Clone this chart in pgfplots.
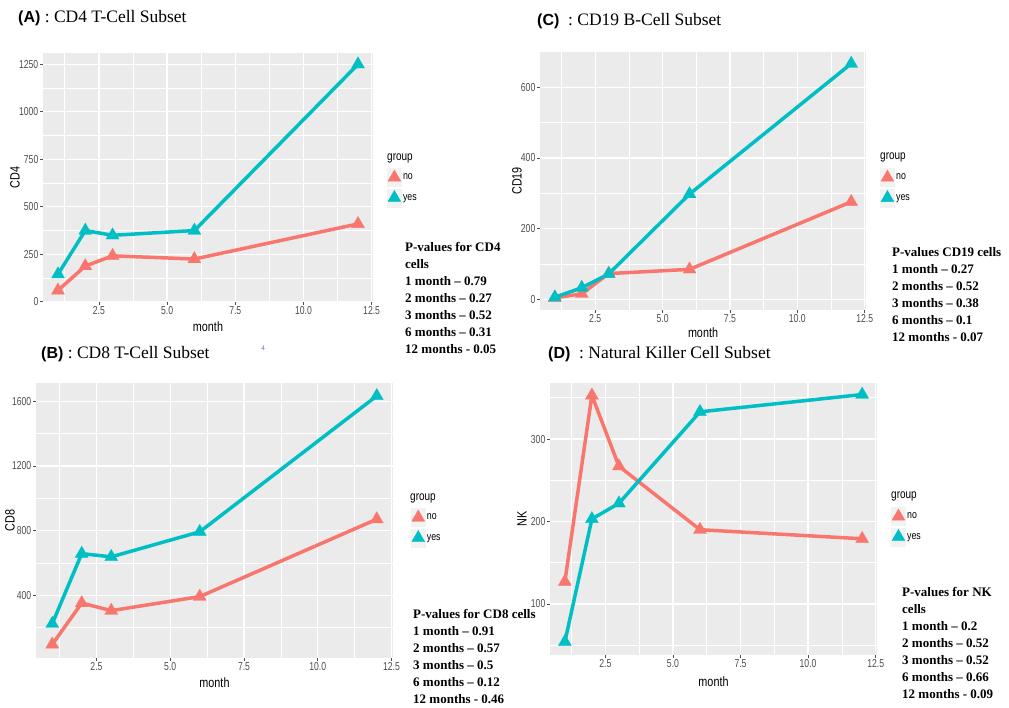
\documentclass[border=0pt]{standalone}
\usepackage{fontspec}
\setmainfont{Liberation Serif}
\setsansfont{Liberation Sans}
\newfontfamily\ggfont[FakeStretch=0.8]{Liberation Sans}
\newfontfamily\ggtickfont[FakeStretch=0.75]{Liberation Sans}
\usepackage{pgfplots}
\usepackage{pgfplotstable}
\pgfplotsset{compat=1.18}

\definecolor{ggred}{HTML}{F8766D}
\definecolor{ggteal}{HTML}{00BFC4}
\definecolor{ggbg}{HTML}{EBEBEB}
\definecolor{ggtick}{HTML}{4D4D4D}
\definecolor{ggkey}{HTML}{F2F2F2}
\definecolor{strayblue}{HTML}{4A78B8}

\pgfplotstableread{
month no yes
1 60 145
2 188 375
3 242 350
6 225 375
12 410 1250
}\tabA
\pgfplotstableread{
month no yes
1 96 224
2 352 658
3 305 638
6 392 793
12 871 1634
}\tabB
\pgfplotstableread{
month no yes
1 4 6
2 16 33
3 73 72
6 85 298
12 276 667
}\tabC
\pgfplotstableread{
month no yes
1 127 54
2 353 203
3 267 222
6 190 333
12 179 354
}\tabD

\pgfplotsset{
 gg/.style={
  scale only axis,
  axis background/.style={fill=ggbg},
  axis line style={draw=none},
  tick pos=left,
  xmin=0.45, xmax=12.55,
  xtick={2.5,5,7.5,10,12.5},
  xticklabels={2.5,5.0,7.5,10.0,12.5},
  minor xtick={1.25,3.75,6.25,8.75,11.25},
  grid=both,
  major grid style={white, line width=1.4pt},
  minor grid style={white, line width=0.7pt},
  tick align=outside,
  major tick length=3pt,
  minor tick length=0pt,
  every tick/.style={ggtick, line width=0.7pt},
  ticklabel style={font=\ggtickfont\fontsize{11.5}{12}\selectfont, text=ggtick},
  xticklabel style={inner sep=1pt},
  yticklabel style={/pgf/number format/set thousands separator={}, inner sep=1.5pt},
  /pgf/number format/assume math mode=true,
  xlabel={month},
  legend style={draw=none, fill=none, inner sep=0pt, anchor=north west,
    font=\ggfont\fontsize{11}{12}\selectfont, row sep=2pt,
    cells={anchor=west}, nodes={inner xsep=1.5pt, inner ysep=0pt}},
  legend image code/.code={
    \fill[ggkey] (0pt,-9pt) rectangle (14pt,9pt);
    \draw[##1] plot coordinates {(7pt,0pt)};
  },
 },
 labpos/.style 2 args={
  every axis y label/.style={at={(axis description cs:#1,0.5)}, rotate=90, anchor=center,
     font=\ggfont\fontsize{13.5}{14}\selectfont, text=black},
  every axis x label/.style={at={(axis description cs:0.5,#2)}, anchor=center,
     font=\ggfont\fontsize{13.5}{14}\selectfont, text=black},
 },
}

\newcommand\panelplots[1]{%
 \addplot[ggred, line width=3.5pt, line join=round, line cap=round, forget plot] table[x=month,y=no]{#1};
 \addplot[ggteal, line width=3.5pt, line join=round, line cap=round, forget plot] table[x=month,y=yes]{#1};
 \addplot[ggred, only marks, mark=triangle*, mark size=7.5pt, mark options={line width=0.3pt}] table[x=month,y=no]{#1};
 \addlegendentry{no}
 \addplot[ggteal, only marks, mark=triangle*, mark size=7.5pt, mark options={line width=0.3pt}] table[x=month,y=yes]{#1};
 \addlegendentry{yes}
}

\newcommand\pvals[3]{%
 \foreach \t [count=\i] in {#3}
  \node[anchor=base west, inner sep=0pt, font=\bfseries\fontsize{13}{15}\selectfont]
    at (#1pt, {(708-#2-(\i-1)*17)*1pt}) {\t};
}

\begin{document}
\begin{tikzpicture}
\path[use as bounding box] (0pt,0pt) rectangle (1009pt,708pt);

% (A)
\begin{axis}[gg, at={(43pt,406pt)}, anchor=south west, width=330pt, height=249pt,
  ymin=-1, ymax=1309.5, ytick={0,250,500,750,1000,1250},
  minor ytick={125,375,625,875,1125}, ylabel={CD4}, labpos={-0.085}{-0.100},
  legend style={at={(1.0424,0.538)}}]
 \panelplots{\tabA}
\end{axis}

% (C)
\begin{axis}[gg, at={(540pt,398pt)}, anchor=south west, width=326pt, height=258pt,
  ymin=-30, ymax=700, ytick={0,200,400,600},
  minor ytick={100,300,500}, ylabel={CD19}, labpos={-0.0706}{-0.089},
  legend style={at={(1.043,0.550)}}]
 \panelplots{\tabC}
\end{axis}

% (B)
\begin{axis}[gg, at={(36pt,50pt)}, anchor=south west, width=357pt, height=275pt,
  ymin=12, ymax=1714, ytick={400,800,1200,1600},
  minor ytick={200,600,1000,1400}, ylabel={CD8}, labpos={-0.073}{-0.091},
  legend style={at={(1.050,0.545)}}]
 \panelplots{\tabB}
\end{axis}

% (D)
\begin{axis}[gg, at={(550pt,53pt)}, anchor=south west, width=327pt, height=272pt,
  ymin=38, ymax=368, ytick={100,200,300},
  minor ytick={50,150,250,350}, ylabel={NK}, labpos={-0.086}{-0.099},
  legend style={at={(1.043,0.544)}}]
 \panelplots{\tabD}
\end{axis}

% titles
\node[anchor=base west, inner sep=0pt, font=\fontsize{17.5}{20}\selectfont] at (18pt,685pt)
  {{\sffamily\bfseries\fontsize{16}{18}\selectfont (A)} : CD4 T-Cell Subset};
\node[anchor=base west, inner sep=0pt, font=\fontsize{17.5}{20}\selectfont] at (537pt,682pt)
  {{\sffamily\bfseries\fontsize{16}{18}\selectfont (C)}\ \ : CD19 B-Cell Subset};
\node[anchor=base west, inner sep=0pt, font=\fontsize{17.5}{20}\selectfont] at (41pt,349pt)
  {{\sffamily\bfseries\fontsize{16}{18}\selectfont (B)} : CD8 T-Cell Subset};
\node[anchor=base west, inner sep=0pt, font=\fontsize{17.5}{20}\selectfont] at (548pt,349pt)
  {{\sffamily\bfseries\fontsize{16}{18}\selectfont (D)}\ \ : Natural Killer Cell Subset};
\node[font=\fontsize{7}{8}\selectfont, text=strayblue] at (263pt,360pt) {4};

% legend titles
\node[anchor=west, inner sep=0pt, font=\ggfont\fontsize{12.5}{13}\selectfont] at (387pt,550pt) {group};
\node[anchor=west, inner sep=0pt, font=\ggfont\fontsize{12.5}{13}\selectfont] at (880pt,551pt) {group};
\node[anchor=west, inner sep=0pt, font=\ggfont\fontsize{12.5}{13}\selectfont] at (410pt,210pt) {group};
\node[anchor=west, inner sep=0pt, font=\ggfont\fontsize{12.5}{13}\selectfont] at (891pt,212pt) {group};

% p-values
\pvals{405}{251.5}{P-values for CD4, cells, 1 month – 0.79, 2 months – 0.27, 3 months – 0.52, 6 months – 0.31, 12 months - 0.05}
\pvals{892}{256.5}{P-values CD19 cells, 1 month – 0.27, 2 months – 0.52, 3 months – 0.38, 6 months – 0.1, 12 months - 0.07}
\pvals{413}{618.5}{P-values for CD8 cells, 1 month – 0.91, 2 months – 0.57, 3 months – 0.5, 6 months – 0.12, 12 months -  0.46}
\pvals{902}{596.5}{P-values for NK, cells, 1 month – 0.2, 2 months – 0.52, 3 months – 0.52, 6 months – 0.66, 12 months -  0.09}
\end{tikzpicture}
\end{document}
